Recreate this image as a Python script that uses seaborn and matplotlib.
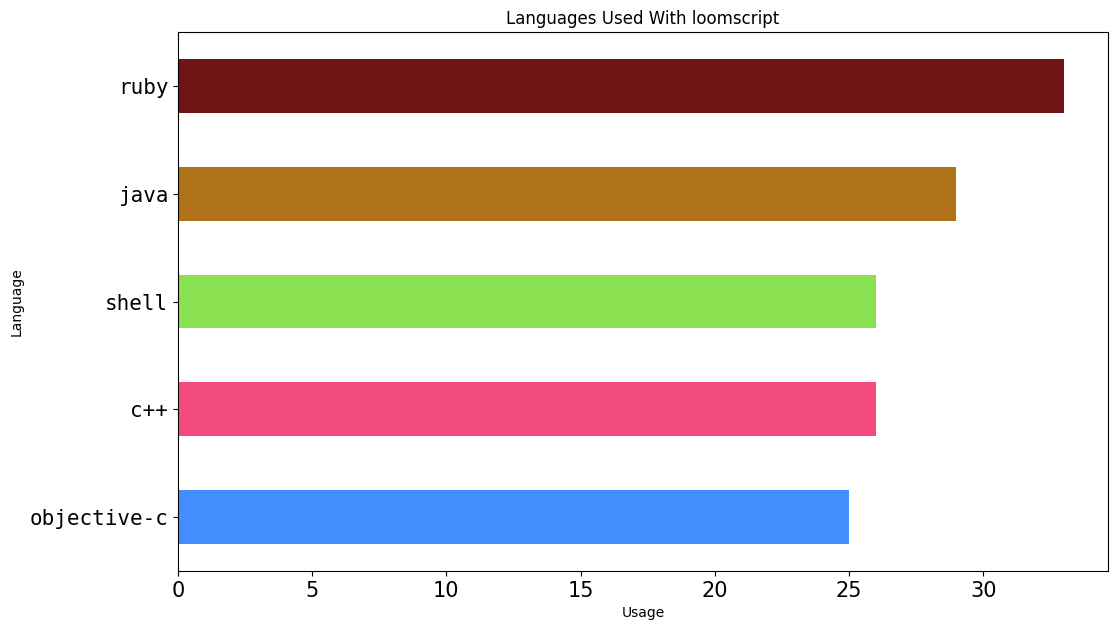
import matplotlib
matplotlib.use("Agg")
import matplotlib.pyplot as plt
import seaborn as sns
import pandas as pd

languages = ["ruby", "java", "shell", "c++", "objective-c"]
usage = [33, 29, 26, 26, 25]
colors = ["#701516", "#b07219", "#89e051", "#f34b7d", "#438eff"]

df = pd.DataFrame({"Language": languages, "Usage": usage})

fig = plt.figure(figsize=(11.18, 6.3), dpi=100)
ax = fig.add_axes([178/1118, 1-571/630, (1108-178)/1118, (571-32)/630])
sns.barplot(data=df, y="Language", x="Usage", hue="Language", palette=colors,
            order=languages, hue_order=languages, orient="h", width=0.5,
            legend=False, saturation=1, ax=ax)
ax.set_xlim(0, max(usage) * 1.05)
ax.set_ylim(len(languages) - 0.5, -0.5)
ax.set_title("Languages Used With loomscript", fontsize=12)
ax.set_xlabel("Usage", fontsize=10)
ax.set_ylabel("Language", fontsize=10)
ax.tick_params(axis="x", labelsize=15)
for lbl in ax.get_yticklabels():
    lbl.set_fontfamily("DejaVu Sans Mono")
    lbl.set_fontsize(15)
fig.savefig("out.png", dpi=100)
